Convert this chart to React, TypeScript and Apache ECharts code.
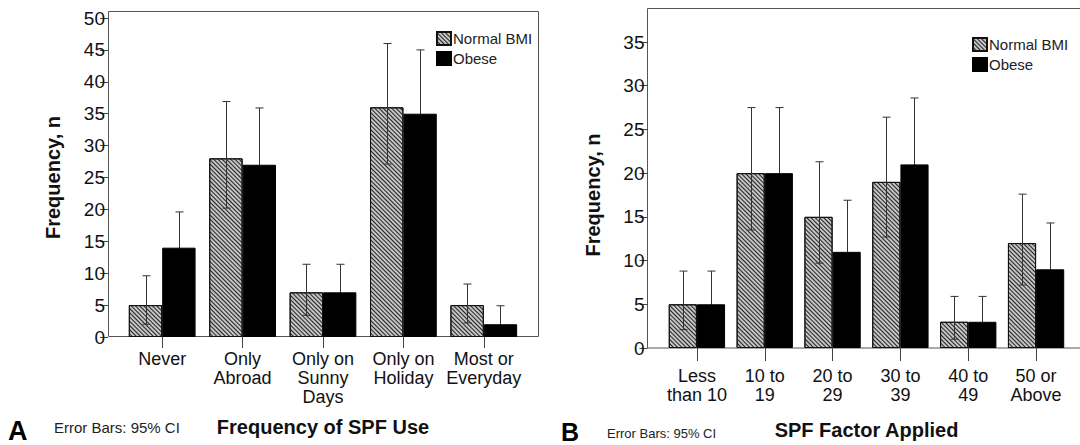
import React, { useEffect, useRef } from "react";
import * as echarts from "echarts";

const FONT = '"Liberation Sans", Arial, Helvetica, sans-serif';

// Panel A
const catsA = ["Never", "Only\nAbroad", "Only on\nSunny\nDays", "Only on\nHoliday", "Most or\nEveryday"];
const normalA = [5, 28, 7, 36, 5];
const obeseA = [14, 27, 7, 35, 2];
const normalALo = [2.0, 20.2, 3.4, 27.1, 2.2];
const normalAHi = [9.6, 36.9, 11.4, 46.0, 8.3];
const obeseALo = [8.5, 19.0, 3.4, 26.0, 0.6];
const obeseAHi = [19.6, 35.9, 11.4, 45.0, 4.9];

// Panel B
const catsB = ["Less\nthan 10", "10 to\n19", "20 to\n29", "30 to\n39", "40 to\n49", "50 or\nAbove"];
const normalB = [5, 20, 15, 19, 3, 12];
const obeseB = [5, 20, 11, 21, 3, 9];
const normalBLo = [2.1, 13.5, 9.7, 12.7, 1.0, 7.2];
const normalBHi = [8.8, 27.5, 21.3, 26.4, 5.9, 17.6];
const obeseBLo = [2.1, 13.5, 6.2, 14.0, 1.0, 4.6];
const obeseBHi = [8.8, 27.5, 16.9, 28.6, 5.9, 14.3];

const seriesNames = ["Normal BMI", "Obese"];

const hatchStyle = {
  color: "#c4c4c4",
  borderColor: "#111",
  borderWidth: 1,
  decal: {
    symbol: "rect",
    symbolSize: 1,
    color: "#222",
    dashArrayX: [1, 0],
    dashArrayY: [1, 2],
    rotation: Math.PI / 4,
  },
};
const blackStyle = { color: "#000", borderColor: "#000", borderWidth: 1 };

function errSeries(lo: number[], hi: number[], side: number, axis: number, z: number) {
  return {
    type: "custom",
    xAxisIndex: axis,
    yAxisIndex: axis,
    z,
    silent: true,
    encode: { x: 0, y: [1, 2] },
    data: lo.map((l, i) => [i, l, hi[i]]),
    renderItem: (params: any, api: any) => {
      const i = api.value(0);
      const pLo = api.coord([i, api.value(1)]);
      const pHi = api.coord([i, api.value(2)]);
      const band = api.size([1, 0])[0];
      const x = Math.round(pLo[0] + side * band * 0.2075) + 0.5;
      const cap = 4;
      const st = { stroke: "#333", lineWidth: 1 };
      return {
        type: "group",
        children: [
          { type: "line", shape: { x1: x, y1: pHi[1], x2: x, y2: pLo[1] }, style: st },
          { type: "line", shape: { x1: x - cap, y1: pHi[1], x2: x + cap, y2: pHi[1] }, style: st },
          { type: "line", shape: { x1: x - cap, y1: pLo[1], x2: x + cap, y2: pLo[1] }, style: st },
        ],
      };
    },
  };
}

function xAxisCfg(grid: number, data: string[], name: string, margin: number, tickLen: number, nameGap: number) {
  return {
    type: "category",
    gridIndex: grid,
    data,
    axisLine: { show: false },
    axisTick: { show: true, alignWithLabel: true, length: tickLen, lineStyle: { color: "#444" } },
    axisLabel: { interval: 0, fontSize: 18, lineHeight: 19, color: "#111", margin, fontFamily: FONT },
    name,
    nameLocation: "middle",
    nameGap,
    nameTextStyle: { fontSize: 20, fontWeight: "bold", color: "#111", fontFamily: FONT },
  };
}

function yAxisCfg(grid: number, max: number, offset: number, nameGap: number) {
  return {
    type: "value",
    gridIndex: grid,
    min: 0,
    max,
    interval: 5,
    offset,
    axisLine: { show: false },
    axisTick: { show: true, length: 8, lineStyle: { color: "#444" } },
    axisLabel: { fontSize: 19, color: "#111", margin: 3, fontFamily: FONT },
    splitLine: { show: false },
    name: "Frequency, n",
    nameLocation: "middle",
    nameGap,
    nameTextStyle: { fontSize: 20, fontWeight: "bold", color: "#111", fontFamily: FONT },
  };
}

function legendCfg(left: number, top: number) {
  return {
    left,
    top,
    orient: "vertical",
    icon: "rect",
    itemWidth: 14,
    itemHeight: 13,
    itemGap: 5,
    padding: 0,
    selectedMode: false,
    data: seriesNames,
    textStyle: { fontSize: 15, color: "#222", fontFamily: FONT, padding: [0, 0, 0, -3] },
  };
}

export default function App() {
  const ref = useRef<HTMLDivElement>(null);
  useEffect(() => {
    if (!ref.current) return;
    const chart = echarts.init(ref.current, undefined, { renderer: "svg" });
    const option: any = {
      animation: false,
      textStyle: { fontFamily: FONT },
      grid: [
        { left: 122, top: 18, width: 402, height: 319 },
        { left: 663, top: 42, width: 407, height: 306 },
      ],
      xAxis: [
        xAxisCfg(0, catsA, "Frequency of SPF Use", 12, 11, 80),
        xAxisCfg(1, catsB, "SPF Factor Applied", 18, 13, 72),
      ],
      yAxis: [yAxisCfg(0, 50, 14, 45), yAxisCfg(1, 35, 15.5, 45)],
      legend: [legendCfg(436, 31), legendCfg(972, 37)],
      series: [
        errSeries(obeseALo, obeseAHi, 1, 0, 1),
        { type: "bar", name: seriesNames[0], xAxisIndex: 0, yAxisIndex: 0, data: normalA, barGap: "0%", barCategoryGap: "17%", itemStyle: hatchStyle, z: 2 },
        { type: "bar", name: seriesNames[1], xAxisIndex: 0, yAxisIndex: 0, data: obeseA, barGap: "0%", barCategoryGap: "17%", itemStyle: blackStyle, z: 2 },
        errSeries(normalALo, normalAHi, -1, 0, 3),
        errSeries(obeseBLo, obeseBHi, 1, 1, 1),
        { type: "bar", name: seriesNames[0], xAxisIndex: 1, yAxisIndex: 1, data: normalB, barGap: "0%", barCategoryGap: "17%", itemStyle: hatchStyle, z: 2 },
        { type: "bar", name: seriesNames[1], xAxisIndex: 1, yAxisIndex: 1, data: obeseB, barGap: "0%", barCategoryGap: "17%", itemStyle: blackStyle, z: 2 },
        errSeries(normalBLo, normalBHi, -1, 1, 3),
      ],
      graphic: [
        { type: "rect", z: 0, shape: { x: 108.5, y: 11.5, width: 430, height: 325 }, style: { fill: "none", stroke: "#555", lineWidth: 1 } },
        { type: "rect", z: 0, shape: { x: 647.5, y: 8.5, width: 440, height: 339.5 }, style: { fill: "none", stroke: "#555", lineWidth: 1 } },
        { type: "text", x: 8, y: 444, style: { text: "A", font: `bold 27px ${FONT}`, fill: "#000", verticalAlign: "bottom" } },
        { type: "text", x: 54, y: 427, style: { text: "Error Bars: 95% CI", font: `15px ${FONT}`, fill: "#222", verticalAlign: "middle" } },
        { type: "text", x: 561, y: 444, style: { text: "B", font: `bold 25px ${FONT}`, fill: "#000", verticalAlign: "bottom" } },
        { type: "text", x: 607, y: 433, style: { text: "Error Bars: 95% CI", font: `13px ${FONT}`, fill: "#222", verticalAlign: "middle" } },
      ],
    };
    chart.setOption(option);
    return () => chart.dispose();
  }, []);
  return (
    <div
      ref={ref}
      style={{ position: "absolute", left: 0, top: 0, width: 1080, height: 445, background: "#fff" }}
    />
  );
}
